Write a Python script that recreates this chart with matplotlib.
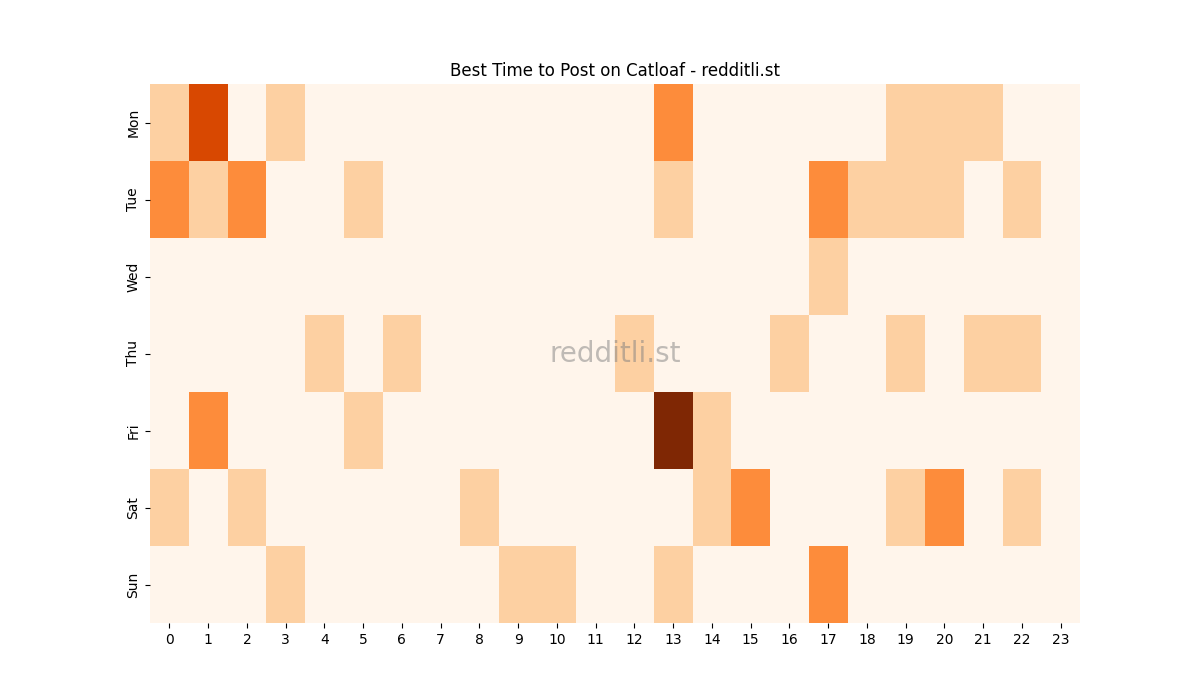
import matplotlib
matplotlib.use("Agg")
import matplotlib.pyplot as plt
import seaborn as sns
import numpy as np

days = ["Mon", "Tue", "Wed", "Thu", "Fri", "Sat", "Sun"]
hours = list(range(24))
mon = [1,3,0,1,0,0,0,0,0,0,0,0,0,2,0,0,0,0,0,1,1,1,0,0]
tue = [2,1,2,0,0,1,0,0,0,0,0,0,0,1,0,0,0,2,1,1,1,0,1,0]
wed = [0,0,0,0,0,0,0,0,0,0,0,0,0,0,0,0,0,1,0,0,0,0,0,0]
thu = [0,0,0,0,1,0,1,0,0,0,0,0,1,0,0,0,1,0,0,1,0,1,1,0]
fri = [0,2,0,0,0,1,0,0,0,0,0,0,0,4,1,0,0,0,0,0,0,0,0,0]
sat = [1,0,1,0,0,0,0,0,1,0,0,0,0,0,1,2,0,0,0,1,2,0,1,0]
sun = [0,0,0,1,0,0,0,0,0,1,1,0,0,1,0,0,0,2,0,0,0,0,0,0]
data = np.array([mon, tue, wed, thu, fri, sat, sun])

fig, ax = plt.subplots(figsize=(12, 7), dpi=100)
sns.heatmap(data, cmap="Oranges", vmin=0, vmax=4, cbar=False, ax=ax,
            xticklabels=hours, yticklabels=days)
ax.set_title("Best Time to Post on Catloaf - redditli.st")
ax.text(0.5, 0.5, "redditli.st", transform=ax.transAxes, ha="center", va="center",
        fontsize=20, color="grey", alpha=0.5)
fig.savefig("out.png")
